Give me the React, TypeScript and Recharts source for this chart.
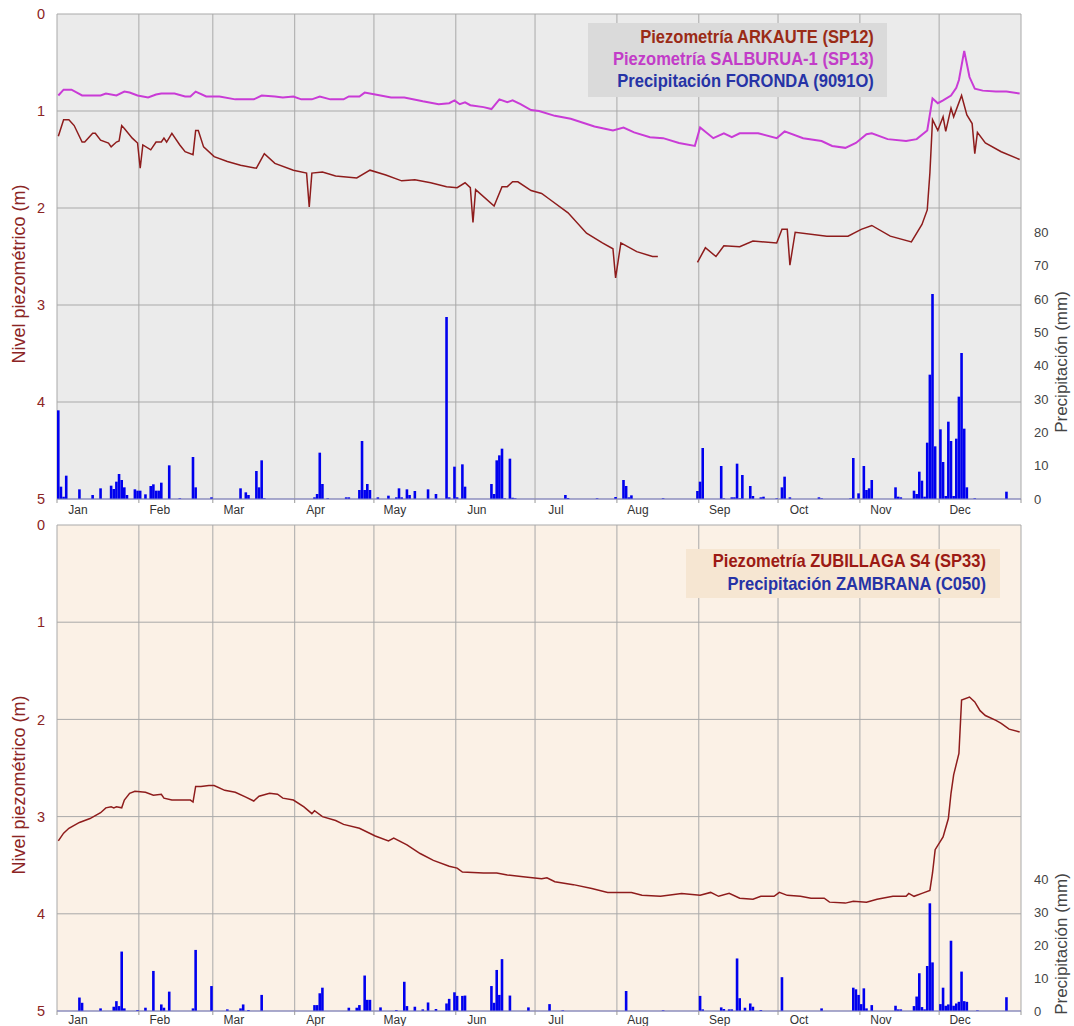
import React from 'react'
import { Bar, CartesianGrid, ComposedChart, Line, XAxis, YAxis } from 'recharts'

type Pt = [number, number | null]

// day of year (1 = 1 Jan) -> depth to water (m)
const arkaute: Pt[] = [
  [1, 1.26], [3, 1.09], [5, 1.09], [7, 1.15], [10, 1.32], [11, 1.32], [14, 1.23], [15, 1.23],
  [17, 1.3], [20, 1.33], [21, 1.37], [23, 1.32], [24, 1.31], [25, 1.15], [26, 1.18], [29, 1.28],
  [31, 1.33], [32, 1.59], [33, 1.35], [36, 1.4], [38, 1.32], [40, 1.32], [41, 1.28], [42, 1.32],
  [44, 1.23], [47, 1.35], [49, 1.42], [52, 1.45], [53, 1.2], [54, 1.2], [56, 1.37], [60, 1.47],
  [65, 1.52], [70, 1.56], [76, 1.59], [79, 1.44], [83, 1.54], [90, 1.61], [95, 1.64], [96, 1.99],
  [97, 1.64], [101, 1.63], [106, 1.67], [114, 1.69], [119, 1.61], [125, 1.66], [131, 1.72],
  [136, 1.71], [142, 1.74], [148, 1.78], [152, 1.79], [155, 1.74], [157, 1.79], [158, 2.15],
  [159, 1.81], [166, 1.98], [169, 1.78], [171, 1.78], [173, 1.73], [175, 1.73], [180, 1.82],
  [184, 1.85], [187, 1.91], [194, 2.05], [201, 2.26], [207, 2.36], [211, 2.42], [212, 2.72],
  [214, 2.36], [220, 2.45], [226, 2.5], [228, 2.5], [236, null], [243, 2.56], [246, 2.41],
  [250, 2.5], [253, 2.39], [259, 2.4], [264, 2.34], [273, 2.36], [275, 2.22], [277, 2.22],
  [278, 2.59], [280, 2.25], [292, 2.29], [300, 2.29], [305, 2.22], [309, 2.18], [316, 2.29],
  [324, 2.35], [328, 2.17], [330, 2.02], [331, 1.64], [332, 1.09], [334, 1.2], [336, 1.06],
  [337, 1.21], [339, 0.97], [340, 1.06], [343, 0.84], [345, 1.04], [347, 1.13], [348, 1.44],
  [349, 1.22], [352, 1.33], [358, 1.42], [365, 1.5],
]

const salburua: Pt[] = [
  [1, 0.84], [3, 0.78], [6, 0.78], [10, 0.84], [17, 0.84], [19, 0.82], [23, 0.84], [26, 0.8],
  [28, 0.81], [31, 0.84], [35, 0.86], [38, 0.83], [40, 0.82], [45, 0.82], [49, 0.85], [51, 0.85],
  [53, 0.8], [57, 0.85], [62, 0.85], [68, 0.88], [75, 0.88], [78, 0.84], [83, 0.85], [86, 0.86],
  [90, 0.85], [93, 0.88], [97, 0.88], [100, 0.85], [104, 0.88], [109, 0.88], [111, 0.85],
  [115, 0.85], [117, 0.81], [121, 0.83], [127, 0.86], [132, 0.86], [139, 0.9], [145, 0.93],
  [149, 0.92], [151, 0.89], [153, 0.93], [155, 0.91], [157, 0.94], [162, 0.96], [165, 0.98],
  [168, 0.88], [171, 0.91], [173, 0.89], [176, 0.93], [180, 0.99], [183, 1.0], [189, 1.05],
  [195, 1.08], [204, 1.16], [211, 1.2], [215, 1.17], [219, 1.22], [225, 1.27], [230, 1.28],
  [236, 1.33], [242, 1.36], [244, 1.17], [249, 1.28], [253, 1.23], [256, 1.27], [259, 1.23],
  [266, 1.23], [273, 1.28], [276, 1.21], [283, 1.28], [290, 1.31], [294, 1.36], [299, 1.38],
  [303, 1.33], [307, 1.24], [309, 1.23], [315, 1.29], [322, 1.31], [326, 1.29], [330, 1.2],
  [332, 0.87], [334, 0.92], [336, 0.89], [339, 0.84], [341, 0.76], [342, 0.68], [344, 0.38],
  [346, 0.65], [348, 0.77], [351, 0.79], [356, 0.8], [360, 0.8], [365, 0.82],
]

const zubillaga: Pt[] = [
  [1, 3.25], [3, 3.17], [5, 3.12], [9, 3.06], [11, 3.04], [13, 3.02], [17, 2.96], [19, 2.91],
  [21, 2.9], [22, 2.91], [23, 2.9], [25, 2.91], [26, 2.83], [28, 2.76], [30, 2.74], [34, 2.75],
  [37, 2.78], [40, 2.77], [41, 2.81], [44, 2.83], [48, 2.83], [51, 2.83], [52, 2.85], [53, 2.69],
  [55, 2.69], [58, 2.68], [60, 2.68], [64, 2.73], [68, 2.75], [72, 2.8], [75, 2.84], [77, 2.79],
  [81, 2.76], [84, 2.77], [86, 2.81], [90, 2.83], [94, 2.9], [97, 2.97], [98, 2.94], [101, 3.0],
  [106, 3.04], [109, 3.08], [115, 3.12], [121, 3.2], [126, 3.25], [128, 3.22], [133, 3.29],
  [138, 3.38], [143, 3.45], [149, 3.51], [152, 3.53], [154, 3.57], [162, 3.58], [167, 3.58],
  [171, 3.6], [177, 3.62], [184, 3.64], [186, 3.63], [189, 3.67], [196, 3.7], [203, 3.74],
  [209, 3.78], [213, 3.78], [218, 3.78], [222, 3.81], [229, 3.82], [237, 3.79], [244, 3.81],
  [248, 3.78], [251, 3.82], [255, 3.79], [259, 3.84], [264, 3.85], [267, 3.82], [272, 3.82],
  [274, 3.78], [277, 3.81], [282, 3.82], [286, 3.84], [291, 3.84], [293, 3.88], [299, 3.89],
  [302, 3.87], [307, 3.88], [311, 3.85], [317, 3.82], [322, 3.82], [323, 3.79], [325, 3.82],
  [328, 3.79], [331, 3.76], [332, 3.58], [333, 3.34], [336, 3.21], [338, 3.02], [339, 2.76],
  [340, 2.57], [342, 2.35], [343, 1.8], [346, 1.77], [348, 1.82], [350, 1.91], [352, 1.96],
  [356, 2.01], [358, 2.04], [361, 2.1], [365, 2.13],
]

// day of year -> daily rain (mm); days not listed had none
const rainForonda: [number, number][] = [
  [1, 26.6], [2, 3.7], [3, 0.7], [4, 7.0], [9, 2.9], [14, 1.2], [17, 3.2], [21, 4.0], [22, 3.0],
  [23, 5.2], [24, 7.5], [25, 5.7], [26, 3.5], [27, 1.2], [30, 2.9], [31, 2.5], [32, 2.5],
  [34, 1.4], [36, 3.9], [37, 4.4], [38, 2.5], [39, 2.5], [40, 4.9], [43, 10.1], [47, 0.2],
  [52, 12.6], [53, 3.5], [59, 0.5], [70, 3.2], [72, 2.0], [73, 1.2], [76, 8.4], [77, 3.5],
  [78, 11.6], [79, 0.2], [98, 0.5], [99, 1.5], [100, 13.9], [101, 4.5], [103, 0.2], [110, 0.5],
  [111, 0.5], [115, 2.7], [116, 17.4], [117, 2.7], [118, 4.5], [119, 2.7], [122, 0.5],
  [126, 1.0], [129, 0.5], [130, 3.2], [131, 0.5], [133, 2.9], [134, 1.2], [136, 2.4],
  [141, 2.9], [144, 1.5], [148, 54.6], [149, 0.5], [151, 9.7], [152, 0.5], [154, 10.4],
  [155, 3.7], [165, 4.5], [166, 1.5], [167, 11.6], [168, 13.1], [169, 15.1], [170, 0.2],
  [172, 12.1], [173, 0.4], [174, 0.2], [193, 1.2], [194, 0.3], [205, 0.2], [212, 0.6],
  [215, 5.7], [216, 3.9], [217, 0.5], [218, 1.1], [230, 0.2], [243, 2.4], [244, 5.2],
  [245, 15.3], [252, 9.9], [253, 0.2], [256, 0.5], [257, 0.5], [258, 10.6], [259, 0.2],
  [260, 7.2], [263, 3.9], [264, 0.9], [267, 0.5], [268, 0.7], [273, 0.2], [275, 3.5],
  [276, 6.7], [278, 0.5], [289, 0.5], [290, 0.2], [301, 0.2], [302, 12.3], [304, 1.7],
  [306, 9.9], [307, 2.7], [308, 3.2], [309, 5.7], [318, 3.5], [319, 0.7], [320, 0.5],
  [325, 2.5], [326, 1.5], [327, 8.2], [328, 5.5], [329, 0.7], [330, 16.9], [331, 37.3],
  [332, 61.5], [333, 15.8], [335, 20.9], [336, 11.1], [337, 0.9], [338, 23.2], [339, 17.4],
  [340, 0.9], [341, 18.1], [342, 30.7], [343, 43.8], [344, 21.1], [345, 3.5], [348, 0.2],
  [360, 2.2],
]

const rainZambrana: [number, number][] = [
  [9, 4.1], [10, 2.5], [17, 0.8], [22, 1.3], [23, 3.0], [24, 1.5], [25, 18.1], [26, 0.8],
  [31, 0.3], [34, 1.0], [37, 12.2], [40, 2.0], [41, 1.0], [43, 5.9], [52, 0.8], [53, 18.6],
  [59, 7.6], [65, 0.5], [70, 0.8], [71, 2.0], [73, 0.3], [78, 4.9], [98, 1.8], [99, 1.8],
  [100, 5.4], [101, 7.1], [111, 1.0], [114, 1.0], [115, 1.8], [117, 10.8], [118, 3.4],
  [119, 3.4], [123, 1.1], [129, 0.3], [132, 8.9], [133, 1.5], [136, 1.3], [139, 0.5],
  [141, 2.6], [144, 0.6], [148, 2.3], [149, 3.7], [151, 5.7], [152, 4.6], [154, 4.6],
  [155, 4.7], [165, 7.6], [166, 2.5], [167, 12.5], [168, 4.9], [169, 15.8], [172, 4.7],
  [179, 1.1], [187, 2.1], [192, 0.2], [216, 6.1], [230, 0.2], [244, 4.6], [245, 0.5],
  [252, 1.1], [253, 0.6], [255, 0.5], [256, 0.5], [258, 16.0], [259, 3.9], [261, 1.0],
  [263, 2.3], [264, 1.3], [267, 0.3], [275, 10.3], [290, 0.8], [302, 7.1], [303, 6.6],
  [304, 4.9], [305, 2.1], [306, 6.9], [307, 0.8], [309, 1.8], [318, 1.6], [319, 0.5],
  [320, 0.5], [325, 1.5], [326, 4.4], [327, 11.5], [328, 1.2], [329, 0.5], [330, 13.7],
  [331, 32.8], [332, 14.8], [335, 2.1], [336, 7.1], [337, 1.6], [338, 2.0], [339, 21.4],
  [340, 1.6], [341, 2.3], [342, 2.8], [343, 12.0], [344, 3.0], [345, 2.8], [349, 0.2],
  [360, 4.2],
]

const months = ['Jan', 'Feb', 'Mar', 'Apr', 'May', 'Jun', 'Jul', 'Aug', 'Sep', 'Oct', 'Nov', 'Dec']
// month boundaries, between the last day of one month and the first of the next
const monthEdges = [0.5, 31.5, 59.5, 90.5, 120.5, 151.5, 181.5, 212.5, 243.5, 273.5, 304.5, 334.5, 365.5]
const levelTicks = [0, 1, 2, 3, 4, 5]
const markTicks = [0, 0.5, 1, 1.5, 2, 2.5, 3, 3.5, 4, 4.5, 5]
const rainTicksTop = [0, 10, 20, 30, 40, 50, 60, 70, 80]
const rainTicksBottom = [0, 10, 20, 30, 40]

const days = Array.from({ length: 365 }, (_, i) => i + 1)
const rainTable = (pairs: [number, number][]) => {
  const byDay = new Map(pairs)
  return days.map((day) => ({ day, rain: byDay.get(day) ?? 0 }))
}
const levelRows = (pts: Pt[]) => pts.map(([day, v]) => ({ day, v }))

const FONT = '"Liberation Sans", Arial, Helvetica, sans-serif'
const RED = '#8b2424'

function MonthTick(props: any) {
  const { x, y, payload } = props
  const i = monthEdges.indexOf(payload.value)
  if (i < 0 || i >= months.length) return <g />
  return (
    <text x={x + 21} y={y} dy="0.71em" textAnchor="middle" fontSize={12} fill="#333">
      {months[i]}
    </text>
  )
}

type Series = { pts: Pt[]; color: string; width: number }

function Panel(props: {
  top: number
  height: number
  marginTop: number
  axisHeight: number
  labelGap: number
  bg: string
  rain: [number, number][]
  rainMax: number
  rainTicks: number[]
  series: Series[]
}) {
  const { top, height, marginTop, axisHeight, labelGap, bg, rain, rainMax, rainTicks, series } = props
  return (
    <div style={{ position: 'absolute', left: 0, top }}>
      <ComposedChart
        width={1074}
        height={height}
        data={rainTable(rain)}
        margin={{ top: marginTop, right: 0, bottom: 0, left: 0 }}
        barCategoryGap={0}
        barGap={0}
      >
        <CartesianGrid yAxisId="lvl" stroke="#a9a9a9" strokeWidth={1} fill={bg} fillOpacity={1} />
        <XAxis
          type="number"
          dataKey="day"
          domain={[0.5, 365.5]}
          allowDataOverflow
          ticks={monthEdges}
          interval={0}
          height={axisHeight}
          tick={<MonthTick />}
          tickSize={4}
          tickMargin={labelGap}
          tickLine={{ stroke: '#999' }}
          axisLine={{ stroke: '#7f80c8' }}
        />
        <YAxis
          yAxisId="lvl"
          orientation="left"
          domain={[0, 5]}
          reversed
          ticks={levelTicks}
          interval={0}
          width={57}
          axisLine={false}
          tickLine={false}
          tickSize={6}
          tickMargin={6}
          tick={{ fill: RED, fontSize: 14.5 }}
        />
        <YAxis
          yAxisId="marks"
          orientation="right"
          domain={[0, 5]}
          reversed
          ticks={markTicks}
          interval={0}
          width={0}
          tick={false}
          tickSize={5}
          tickLine={{ stroke: '#999' }}
          axisLine={{ stroke: '#333' }}
        />
        <YAxis
          yAxisId="rain"
          orientation="right"
          domain={[0, rainMax]}
          allowDataOverflow
          ticks={rainTicks}
          interval={0}
          width={53}
          axisLine={false}
          tickLine={false}
          tickSize={6}
          tickMargin={7}
          tick={{ fill: '#444', fontSize: 13 }}
        />
        <Bar yAxisId="rain" dataKey="rain" fill="#0000ee" barSize={2.6} isAnimationActive={false} />
        {series.map((s, i) => (
          <Line
            key={i}
            yAxisId="lvl"
            data={levelRows(s.pts)}
            dataKey="v"
            type="linear"
            stroke={s.color}
            strokeWidth={s.width}
            dot={false}
            activeDot={false}
            connectNulls={false}
            isAnimationActive={false}
          />
        ))}
      </ComposedChart>
    </div>
  )
}

function VText(props: { x: number; y: number; size: number; color: string; children: React.ReactNode }) {
  return (
    <div
      style={{
        position: 'absolute',
        left: props.x,
        top: props.y,
        transform: 'translate(-50%, -50%) rotate(-90deg)',
        whiteSpace: 'nowrap',
        fontSize: props.size,
        color: props.color,
        lineHeight: 1,
      }}
    >
      {props.children}
    </div>
  )
}

function LegendBox(props: {
  left: number
  top: number
  width: number
  height: number
  bg: string
  padRight: number
  padTop: number
  lineHeight: number
  items: { text: string; color: string }[]
}) {
  const { left, top, width, height, bg, padRight, padTop, lineHeight, items } = props
  return (
    <div style={{ position: 'absolute', left, top, width, height, background: bg }}>
      <div
        style={{
          position: 'absolute',
          right: padRight,
          top: padTop,
          textAlign: 'right',
          whiteSpace: 'nowrap',
          fontWeight: 'bold',
          fontSize: 19,
          lineHeight: `${lineHeight}px`,
          transform: 'scaleX(0.87)',
          transformOrigin: 'right center',
        }}
      >
        {items.map((it) => (
          <div key={it.text} style={{ color: it.color }}>
            {it.text}
          </div>
        ))}
      </div>
    </div>
  )
}

export default function App() {
  return (
    <div
      style={{
        position: 'absolute',
        left: 0,
        top: 0,
        width: 1074,
        height: 1026,
        overflow: 'hidden',
        background: '#fff',
        fontFamily: FONT,
      }}
    >
      <Panel
        top={0}
        height={520}
        marginTop={14}
        axisHeight={21}
        labelGap={2}
        bg="#ebebeb"
        rain={rainForonda}
        rainMax={145.5}
        rainTicks={rainTicksTop}
        series={[
          { pts: salburua, color: '#c93bd6', width: 2 },
          { pts: arkaute, color: '#8e1c1c', width: 1.5 },
        ]}
      />
      <Panel
        top={510}
        height={516}
        marginTop={15}
        axisHeight={15}
        labelGap={0}
        bg="#fbf1e6"
        rain={rainZambrana}
        rainMax={148}
        rainTicks={rainTicksBottom}
        series={[{ pts: zubillaga, color: '#8e1c1c', width: 1.5 }]}
      />

      <VText x={19} y={274} size={18} color={RED}>Nivel piezométrico (m)</VText>
      <VText x={19} y={785} size={18} color={RED}>Nivel piezométrico (m)</VText>
      <VText x={1061} y={362} size={17} color="#444">Precipitación (mm)</VText>
      <VText x={1061} y={944} size={17} color="#444">Precipitación (mm)</VText>

      <LegendBox
        left={588}
        top={23}
        width={299}
        height={74}
        bg="#dadada"
        padRight={13}
        padTop={3}
        lineHeight={22.2}
        items={[
          { text: 'Piezometría ARKAUTE (SP12)', color: '#9a2b16' },
          { text: 'Piezometría SALBURUA-1 (SP13)', color: '#c23cc8' },
          { text: 'Precipitación FORONDA (9091O)', color: '#2633a6' },
        ]}
      />
      <LegendBox
        left={686}
        top={549}
        width={314}
        height={49}
        bg="#f6e6d2"
        padRight={14}
        padTop={0}
        lineHeight={23}
        items={[
          { text: 'Piezometría ZUBILLAGA S4 (SP33)', color: '#9c1a14' },
          { text: 'Precipitación ZAMBRANA (C050)', color: '#2633a6' },
        ]}
      />
    </div>
  )
}
